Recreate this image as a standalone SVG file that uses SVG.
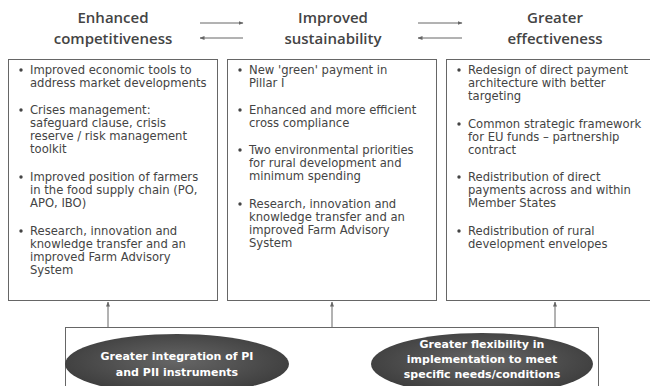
<svg xmlns="http://www.w3.org/2000/svg" width="650" height="386" viewBox="0 0 650 386">
<defs>
<style>
.title{font-family:"Open Sans","DejaVu Sans",sans-serif;font-weight:600;font-size:15px;fill:#444;text-anchor:middle}
.txt{font-family:"DejaVu Sans","Verdana",sans-serif;font-size:11.6px;fill:#444}
.bul{fill:#444}
.box{fill:none;stroke:#666;stroke-width:1}
.con{stroke:#666;stroke-width:1;fill:none}
.ell{font-family:"DejaVu Sans",sans-serif;font-weight:bold;font-size:11px;fill:#fff;text-anchor:middle}
</style>
<marker id="ah" viewBox="0 0 10 10" refX="9" refY="5" markerWidth="5" markerHeight="5" orient="auto-start-reverse">
<path d="M0,1 L10,5 L0,9 z" fill="#666"/>
</marker>
<radialGradient id="eg" cx="50%" cy="45%" r="60%">
<stop offset="0" stop-color="#666"/>
<stop offset="1" stop-color="#3a3a3a"/>
</radialGradient>
</defs>
<rect width="650" height="386" fill="#fff"/>

<g id="title-competitiveness">
<text class="title" x="113" y="23">Enhanced</text>
<text class="title" x="113" y="44">competitiveness</text>
</g>
<g id="title-sustainability">
<text class="title" x="333" y="23">Improved</text>
<text class="title" x="333" y="44">sustainability</text>
</g>
<g id="title-effectiveness">
<text class="title" x="555" y="23">Greater</text>
<text class="title" x="555" y="44">effectiveness</text>
</g>

<g id="box-competitiveness">
<rect class="box" x="8.5" y="59.5" width="209" height="241"/>
<g class="txt">
<circle class="bul" cx="21" cy="70" r="1.7"/>
<text x="30" y="74">Improved economic tools to</text>
<text x="30" y="87">address market developments</text>
<circle class="bul" cx="21" cy="110" r="1.7"/>
<text x="30" y="114">Crises management:</text>
<text x="30" y="127">safeguard clause, crisis</text>
<text x="30" y="140">reserve / risk management</text>
<text x="30" y="153">toolkit</text>
<circle class="bul" cx="21" cy="177" r="1.7"/>
<text x="30" y="181">Improved position of farmers</text>
<text x="30" y="194">in the food supply chain (PO,</text>
<text x="30" y="207">APO, IBO)</text>
<circle class="bul" cx="21" cy="231" r="1.7"/>
<text x="30" y="235">Research, innovation and</text>
<text x="30" y="248">knowledge transfer and an</text>
<text x="30" y="261">improved Farm Advisory</text>
<text x="30" y="274">System</text>
</g>
</g>

<g id="box-sustainability">
<rect class="box" x="227.5" y="59.5" width="209" height="241"/>
<g class="txt">
<circle class="bul" cx="240" cy="70" r="1.7"/>
<text x="249" y="74">New 'green' payment in</text>
<text x="249" y="87">Pillar I</text>
<circle class="bul" cx="240" cy="110" r="1.7"/>
<text x="249" y="114">Enhanced and more efficient</text>
<text x="249" y="127">cross compliance</text>
<circle class="bul" cx="240" cy="150" r="1.7"/>
<text x="249" y="154">Two environmental priorities</text>
<text x="249" y="167">for rural development and</text>
<text x="249" y="180">minimum spending</text>
<circle class="bul" cx="240" cy="204" r="1.7"/>
<text x="249" y="208">Research, innovation and</text>
<text x="249" y="221">knowledge transfer and an</text>
<text x="249" y="234">improved Farm Advisory</text>
<text x="249" y="247">System</text>
</g>
</g>

<g id="box-effectiveness">
<rect class="box" x="446.5" y="59.5" width="210" height="241"/>
<g class="txt">
<circle class="bul" cx="459" cy="70" r="1.7"/>
<text x="468" y="74">Redesign of direct payment</text>
<text x="468" y="87">architecture with better</text>
<text x="468" y="100">targeting</text>
<circle class="bul" cx="459" cy="124" r="1.7"/>
<text x="468" y="128">Common strategic framework</text>
<text x="468" y="141">for EU funds – partnership</text>
<text x="468" y="154">contract</text>
<circle class="bul" cx="459" cy="177" r="1.7"/>
<text x="468" y="181">Redistribution of direct</text>
<text x="468" y="194">payments across and within</text>
<text x="468" y="207">Member States</text>
<circle class="bul" cx="459" cy="231" r="1.7"/>
<text x="468" y="235">Redistribution of rural</text>
<text x="468" y="248">development envelopes</text>
</g>
</g>

<g id="box-bottom">
<rect class="box" x="65.5" y="327.5" width="533" height="70"/>
</g>
<g id="ellipse-integration">
<ellipse cx="177" cy="364" rx="112" ry="30" fill="url(#eg)"/>
<text class="ell" x="177" y="360">Greater integration of PI</text>
<text class="ell" x="177" y="376">and PII instruments</text>
</g>
<g id="ellipse-flexibility">
<ellipse cx="482" cy="364" rx="111" ry="31" fill="url(#eg)"/>
<text class="ell" x="482" y="348">Greater flexibility in</text>
<text class="ell" x="482" y="363">implementation to meet</text>
<text class="ell" x="482" y="378">specific needs/conditions</text>
</g>

<g id="connectors">
<line class="con" x1="200" y1="23" x2="243" y2="23" marker-end="url(#ah)"/>
<line class="con" x1="243" y1="38" x2="200" y2="38" marker-end="url(#ah)"/>
<line class="con" x1="418" y1="23" x2="462" y2="23" marker-end="url(#ah)"/>
<line class="con" x1="462" y1="38" x2="418" y2="38" marker-end="url(#ah)"/>
<line class="con" x1="108" y1="327" x2="108" y2="302" marker-end="url(#ah)"/>
<line class="con" x1="332" y1="327" x2="332" y2="302" marker-end="url(#ah)"/>
<line class="con" x1="555" y1="327" x2="555" y2="302" marker-end="url(#ah)"/>
</g>
</svg>
